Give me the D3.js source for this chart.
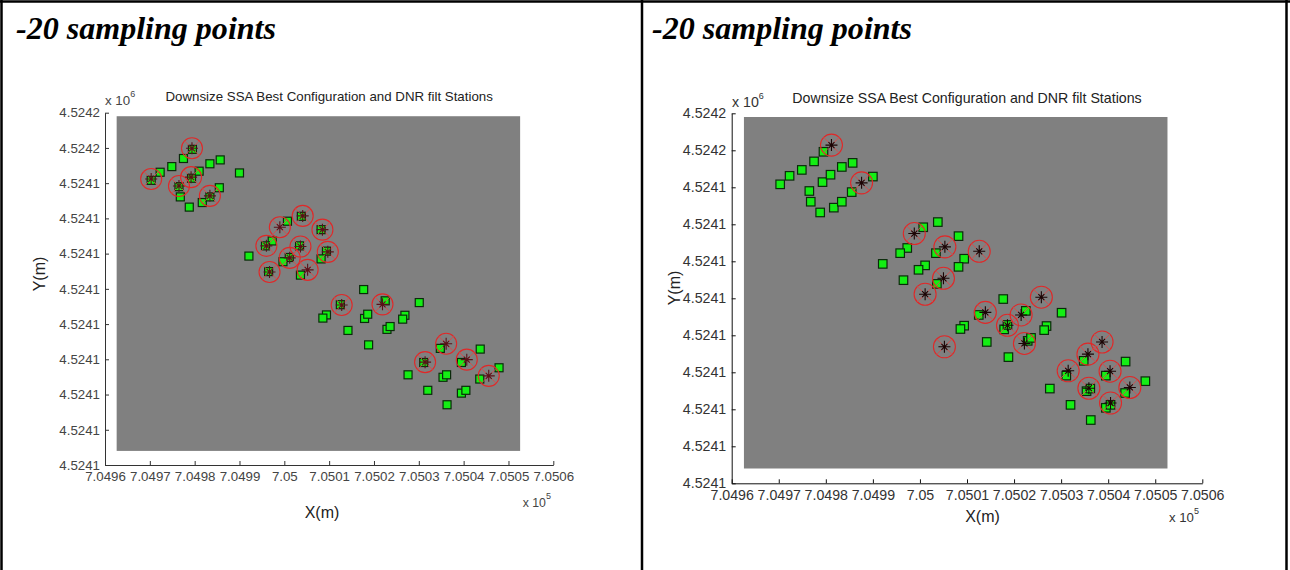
<!DOCTYPE html>
<html>
<head>
<meta charset="utf-8">
<script src="https://cdn.jsdelivr.net/npm/d3@7"></script>
<style>
  body { margin: 0; background: #fff; }
  svg { display: block; }
</style>
</head>
<body>
<div id="chart"></div>
<script>
// tick values (metres) and the labels MATLAB printed for them
const xTicks = [704960, 704970, 704980, 704990, 705000, 705010, 705020, 705030, 705040, 705050, 705060];
const xTickLabels = ["7.0496", "7.0497", "7.0498", "7.0499", "7.05", "7.0501", "7.0502", "7.0503", "7.0504", "7.0505", "7.0506"];
const yTicks = [4524060, 4524070, 4524080, 4524090, 4524100, 4524110, 4524120, 4524130, 4524140, 4524150, 4524160];
const yTickLabels = ["4.5241", "4.5241", "4.5241", "4.5241", "4.5241", "4.5241", "4.5241", "4.5241", "4.5241", "4.5242", "4.5242"];

// grey plotting region of the axes
const bgX = [704962.6, 705052.6];
const bgY = [4524064, 4524159];

// DNR filtered stations (same in both panels)
const stations = [
  [704970.3, 4524140.8], [704972.3, 4524143.1], [704974.9, 4524144.7], [704977.5, 4524147.0],
  [704979.5, 4524149.6], [704976.5, 4524139.0], [704979.3, 4524141.4], [704981.0, 4524143.4],
  [704983.4, 4524145.5], [704985.7, 4524146.6], [704976.8, 4524136.1], [704978.8, 4524133.2],
  [704981.7, 4524134.5], [704983.4, 4524136.1], [704985.5, 4524138.7], [704990.0, 4524142.9],
  [705000.7, 4524129.2], [705003.8, 4524130.6], [705008.2, 4524126.8], [704997.3, 4524123.6],
  [704995.8, 4524122.2], [704992.1, 4524119.3], [705003.4, 4524122.2], [705009.4, 4524120.7],
  [705008.2, 4524118.5], [705001.1, 4524118.9], [704999.7, 4524117.7], [704996.5, 4524114.9],
  [705003.6, 4524113.9], [705017.7, 4524109.8], [705030.1, 4524106.1], [705012.5, 4524105.5],
  [705022.5, 4524106.6], [705009.4, 4524102.6], [705008.6, 4524101.7], [705017.9, 4524101.6],
  [705018.6, 4524102.8], [705026.9, 4524102.5], [705026.4, 4524101.4], [705014.2, 4524098.2],
  [705022.9, 4524098.5], [705023.6, 4524099.3], [705018.8, 4524094.1], [705043.7, 4524092.9],
  [705034.8, 4524093.1], [705031.1, 4524089.1], [705039.5, 4524089.1], [705027.6, 4524085.6],
  [705047.9, 4524087.6], [705043.6, 4524084.4], [705035.4, 4524084.9], [705036.2, 4524085.6],
  [705032.0, 4524081.2], [705039.5, 4524080.4], [705040.5, 4524081.2], [705036.3, 4524077.1]
];

// best SSA configuration, 20 points each
const pickedLeft = [
  [704979.4, 4524149.9], [704970.3, 4524141.2], [704976.5, 4524139.2], [704979.2, 4524141.7],
  [704983.4, 4524136.4], [705004.1, 4524130.7], [704999.0, 4524127.5], [705008.5, 4524126.8],
  [704996.0, 4524122.2], [705003.6, 4524122.0], [705009.7, 4524120.5], [705001.2, 4524118.8],
  [704996.7, 4524114.8], [705005.2, 4524115.4], [705012.8, 4524105.4], [705021.9, 4524105.6],
  [705036.1, 4524094.4], [705031.4, 4524089.2], [705040.7, 4524089.9], [705045.6, 4524085.3]
];
const pickedRight = [
  [704981.2, 4524151.4], [704987.6, 4524141.2], [704998.8, 4524127.5], [705005.3, 4524123.9],
  [705012.6, 4524122.7], [705005.0, 4524115.4], [705001.1, 4524111.1], [705025.8, 4524110.3],
  [705013.9, 4524106.2], [705021.5, 4524105.5], [705018.6, 4524102.7], [705022.2, 4524097.8],
  [705005.2, 4524096.9], [705038.7, 4524098.2], [705035.7, 4524094.9], [705031.5, 4524090.4],
  [705040.4, 4524090.3], [705035.9, 4524085.7], [705044.6, 4524085.9], [705040.5, 4524081.7]
];

const width = 1290, height = 570;
const sans = "'Liberation Sans', Arial, sans-serif";

const svg = d3.select("#chart")
  .append("svg")
  .attr("width", width)
  .attr("height", height);

// table borders
svg.append("g")
  .attr("stroke", "#000")
  .attr("stroke-width", 2.5)
  .selectAll("line")
  .data([[0, 1.5, width, 1.5], [1.5, 0, 1.5, height], [642, 0, 642, height], [1286.5, 0, 1286.5, height]])
  .join("line")
  .attr("x1", d => d[0]).attr("y1", d => d[1])
  .attr("x2", d => d[2]).attr("y2", d => d[3]);

const panels = [
  { headX: 16, x0: 105, x1: 553.3, yTop: 112.7, yBot: 465, font: 13.3, picked: pickedLeft,
    r: 10.5, sq: 8, axisColor: "#333", textColor: "#444", star: "#5a1018",
    titleY: 100.7, e6: [105, 105.3], e5: [522.7, 507], xLab: [322, 518], yLab: [45, 274], xPad: 6.5, yPad: 5 },
  { headX: 652, x0: 731.7, x1: 1202.3, yTop: 113.3, yBot: 483.3, font: 14.2, picked: pickedRight,
    r: 11, sq: 8.5, axisColor: "#111", textColor: "#333", star: "#1a0505",
    titleY: 102.7, e6: [732, 106.7], e5: [1169, 522], xLab: [982.5, 521.7], yLab: [680, 288], xPad: 6.5, yPad: 5.5 }
];

for (let p of panels) {
  let x = d3.scaleLinear()
    .domain([xTicks[0], xTicks[xTicks.length - 1]])
    .range([p.x0, p.x1]);

  let y = d3.scaleLinear()
    .domain([yTicks[0], yTicks[yTicks.length - 1]])
    .range([p.yBot, p.yTop]);

  let g = svg.append("g");

  g.append("text")
    .attr("x", p.headX)
    .attr("y", 39)
    .attr("font-family", "'Liberation Serif', 'Times New Roman', serif")
    .attr("font-weight", "bold")
    .attr("font-style", "italic")
    .attr("font-size", 31)
    .attr("textLength", 260)
    .attr("lengthAdjust", "spacingAndGlyphs")
    .text("-20 sampling points");

  g.append("rect")
    .attr("x", x(bgX[0]))
    .attr("y", y(bgY[1]))
    .attr("width", x(bgX[1]) - x(bgX[0]))
    .attr("height", y(bgY[0]) - y(bgY[1]))
    .attr("fill", "#808080");

  let xa = g.append("g")
    .attr("transform", `translate(0,${p.yBot})`)
    .call(d3.axisBottom(x).tickValues(xTicks).tickFormat((d, i) => xTickLabels[i])
      .tickSizeInner(-4).tickSizeOuter(0).tickPadding(p.xPad));

  let ya = g.append("g")
    .attr("transform", `translate(${p.x0},0)`)
    .call(d3.axisLeft(y).tickValues(yTicks).tickFormat((d, i) => yTickLabels[i])
      .tickSizeInner(-4).tickSizeOuter(0).tickPadding(p.yPad));

  for (let a of [xa, ya]) {
    a.attr("font-size", p.font).attr("font-family", sans).attr("color", p.axisColor);
    a.selectAll("text").attr("fill", p.textColor);
  }

  // stations
  g.append("g")
    .selectAll("rect")
    .data(stations)
    .join("rect")
    .attr("x", d => x(d[0]) - p.sq / 2)
    .attr("y", d => y(d[1]) - p.sq / 2)
    .attr("width", p.sq)
    .attr("height", p.sq)
    .attr("fill", "#14ee14")
    .attr("stroke", "#0b2a0b")
    .attr("stroke-width", 1.2);

  // selected configuration: circle with x, then a star
  let k = p.r * Math.SQRT1_2;
  let m = g.append("g")
    .selectAll("g")
    .data(p.picked)
    .join("g")
    .attr("transform", d => `translate(${x(d[0])},${y(d[1])})`);

  m.append("circle")
    .attr("r", p.r)
    .attr("fill", "none")
    .attr("stroke", "#e02828")
    .attr("stroke-width", 1.1);

  m.append("path")
    .attr("d", `M${-k},${-k}L${k},${k}M${-k},${k}L${k},${-k}`)
    .attr("stroke", "#d94a4a")
    .attr("stroke-width", 0.9);

  m.append("path")
    .attr("d", "M-6,0H6M0,-6V6M-3,-3L3,3M-3,3L3,-3")
    .attr("stroke", p.star)
    .attr("stroke-width", 1.1);

  // title and labels
  g.append("text")
    .attr("x", (p.x0 + p.x1) / 2)
    .attr("y", p.titleY)
    .attr("text-anchor", "middle")
    .attr("font-family", sans)
    .attr("font-size", p.font)
    .attr("fill", "#222")
    .text("Downsize SSA Best Configuration and DNR filt Stations");

  let e6 = g.append("text")
    .attr("x", p.e6[0]).attr("y", p.e6[1])
    .attr("font-family", sans).attr("font-size", p.font).attr("fill", p.textColor)
    .text("x 10");
  e6.append("tspan").attr("dy", -8).attr("font-size", 9).text("6");

  let e5 = g.append("text")
    .attr("x", p.e5[0]).attr("y", p.e5[1])
    .attr("font-family", sans).attr("font-size", p.font - 1).attr("fill", p.textColor)
    .text("x 10");
  e5.append("tspan").attr("dy", -8).attr("font-size", 9).text("5");

  g.append("text")
    .attr("x", p.xLab[0]).attr("y", p.xLab[1])
    .attr("text-anchor", "middle")
    .attr("font-family", sans).attr("font-size", 16).attr("fill", "#222")
    .text("X(m)");

  g.append("text")
    .attr("transform", `translate(${p.yLab[0]},${p.yLab[1]}) rotate(-90)`)
    .attr("text-anchor", "middle")
    .attr("font-family", sans).attr("font-size", 16).attr("fill", "#222")
    .text("Y(m)");
}
</script>
</body>
</html>
